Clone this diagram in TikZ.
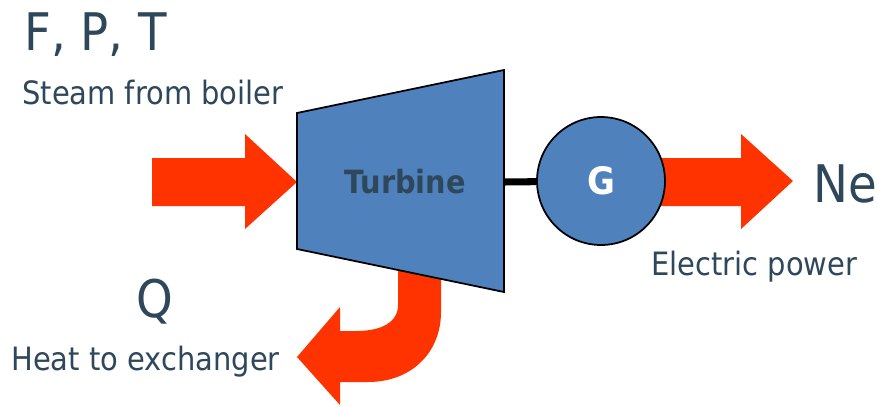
\documentclass[tikz,border=0pt]{standalone}
\usepackage{fontspec}
\setmainfont[FakeStretch=0.9]{DejaVu Sans}
\definecolor{steam}{RGB}{255,51,0}
\definecolor{casing}{RGB}{79,129,189}
\definecolor{ink}{RGB}{47,71,91}

\begin{document}
\begin{tikzpicture}[x=0.02cm, y=-0.02cm,
    flow/.style={fill=steam},
    big/.style={ink, font=\fontsize{29.5}{32}\selectfont, anchor=base west, inner sep=0pt},
    small/.style={ink, font=\fontsize{18.3}{20}\selectfont, anchor=base west, inner sep=0pt}]
  \useasboundingbox[fill=white] (0,0) rectangle (878,406);
  % steam in
  \fill[flow] (152,158) -- (245,158) -- (245,134) -- (297,182) -- (245,229) -- (245,206) -- (152,206) -- cycle;
  % power out, starts behind the generator
  \fill[flow] (640,158) -- (741,158) -- (741,134) -- (793,181) -- (741,229) -- (741,206) -- (640,206) -- cycle;
  % heat rejected, bent down and to the left
  \fill[flow] (398,265) -- (398,305) .. controls (398,322) and (382,331) .. (356,331) -- (340,331)
    -- (340,307) -- (297,357) -- (340,405) -- (340,382) -- (368,382)
    .. controls (412,382) and (441,352) .. (441,312) -- (441,265) -- cycle;
  % turbine casing
  \draw[fill=casing, line width=1pt] (297,113) -- (504,70) -- (504,292) -- (297,249) -- cycle;
  \node[ink, font=\bfseries\fontsize{18.2}{20}\selectfont] (turbine) at (405,182) {Turbine};
  \coordinate (tout) at (504,182);
  % generator on the shaft
  \node[circle, draw, fill=casing, line width=1pt, minimum size=2.56cm, text=white,
    font=\bfseries\fontsize{21.5}{24}\selectfont] (gen) at (601,181) {G};
  \draw[line width=4pt] (tout) -- (gen);
  % labels
  \node[big] (fpt) at (24,50) {F, P, T};
  \node[small] (steamlbl) at (22,104) {Steam from boiler};
  \node[big] (q) at (136,317) {Q};
  \node[small] (heatlbl) at (11,370) {Heat to exchanger};
  \node[big] (ne) at (813,202) {Ne};
  \node[small] (powerlbl) at (651,275) {Electric power};
\end{tikzpicture}
\end{document}
